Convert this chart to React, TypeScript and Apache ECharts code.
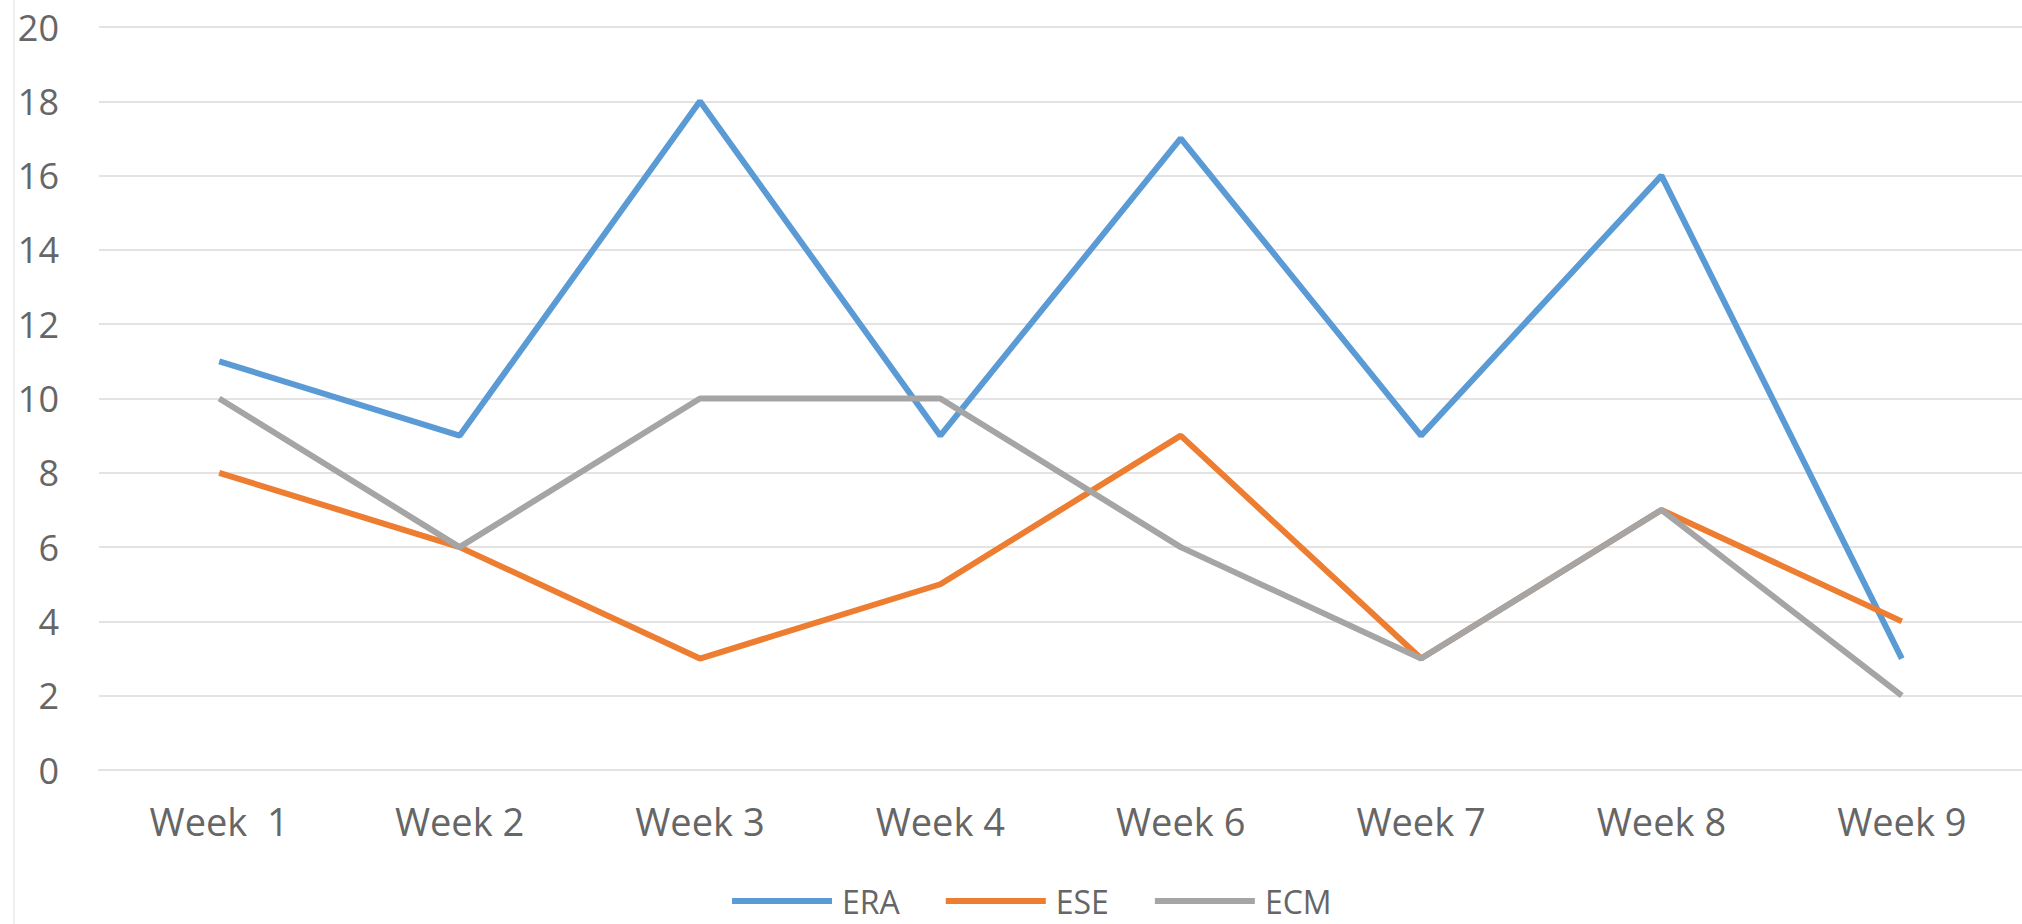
import React, { useEffect, useRef } from "react";
import * as echarts from "echarts";

const categories = ["Week  1", "Week 2", "Week 3", "Week 4", "Week 6", "Week 7", "Week 8", "Week 9"];
const eraValues = [11, 9, 18, 9, 17, 9, 16, 3];
const eseValues = [8, 6, 3, 5, 9, 3, 7, 4];
const ecmValues = [10, 6, 10, 10, 6, 3, 7, 2];
const seriesNames = ["ERA", "ESE", "ECM"];
const seriesColors = ["#5B9BD5", "#ED7D31", "#A5A5A5"];

export default function App() {
  const ref = useRef<HTMLDivElement>(null);
  useEffect(() => {
    if (!ref.current) return;
    const chart = echarts.init(ref.current, null, { renderer: "svg" });
    const font = "'Open Sans', sans-serif";
    const data = [eraValues, eseValues, ecmValues];
    chart.setOption({
      animation: false,
      backgroundColor: "#ffffff",
      textStyle: { fontFamily: font },
      grid: { left: 99, right: -3, top: 27, bottom: 154 },
      graphic: [
        {
          type: "line",
          shape: { x1: 14, y1: 0, x2: 14, y2: 924 },
          style: { stroke: "#f0f0f0", lineWidth: 2 },
          silent: true,
        },
      ],
      legend: {
        data: seriesNames,
        top: 885,
        left: 732,
        padding: 0,
        icon: "rect",
        itemWidth: 100,
        itemHeight: 6,
        itemGap: 46,
        textStyle: { fontSize: 32, lineHeight: 32, color: "#666666", fontFamily: font, padding: [0, 0, 0, 5] },
      },
      xAxis: {
        type: "category",
        data: categories,
        boundaryGap: true,
        axisLine: { show: true, lineStyle: { color: "#e3e3e3", width: 2 } },
        axisTick: { show: false },
        axisLabel: { fontSize: 38, color: "#666666", margin: 32, fontFamily: font },
      },
      yAxis: {
        type: "value",
        min: 0,
        max: 20,
        interval: 2,
        axisLine: { show: false },
        axisTick: { show: false },
        splitLine: { lineStyle: { color: "#e3e3e3", width: 2 } },
        axisLabel: { fontSize: 36, color: "#666666", margin: 40, fontFamily: font },
      },
      series: seriesNames.map((name, i) => ({
        name,
        type: "line",
        data: data[i],
        symbol: "none",
        lineStyle: { color: seriesColors[i], width: 6 },
        itemStyle: { color: seriesColors[i] },
      })),
    });
    return () => chart.dispose();
  }, []);
  return (
    <div
      ref={ref}
      style={{ position: "fixed", left: 0, top: 0, width: 2022, height: 924 }}
    />
  );
}
